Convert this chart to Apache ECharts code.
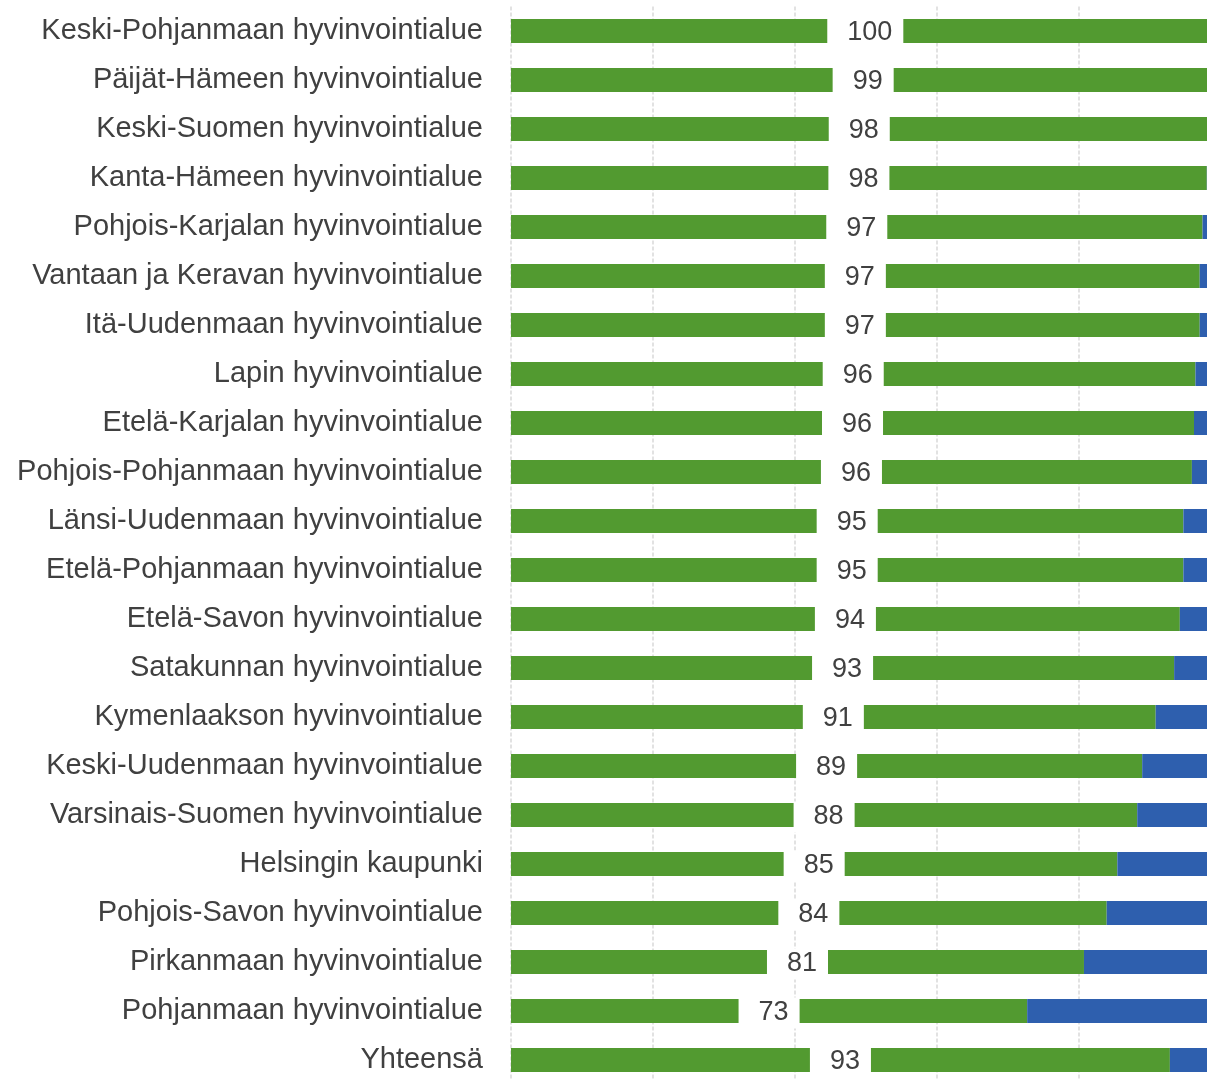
<!DOCTYPE html>
<html>
<head>
<meta charset="utf-8">
<script src="https://cdn.jsdelivr.net/npm/echarts@6/dist/echarts.min.js"></script>
<style>
html,body{margin:0;padding:0;overflow:hidden;background:#fff;width:1207px;height:1080px;}
#c{width:1240px;height:1100px;}
</style>
</head>
<body>
<div id="c"></div>
<script>
const categories = [
  "Keski-Pohjanmaan hyvinvointialue",
  "Päijät-Hämeen hyvinvointialue",
  "Keski-Suomen hyvinvointialue",
  "Kanta-Hämeen hyvinvointialue",
  "Pohjois-Karjalan hyvinvointialue",
  "Vantaan ja Keravan hyvinvointialue",
  "Itä-Uudenmaan hyvinvointialue",
  "Lapin hyvinvointialue",
  "Etelä-Karjalan hyvinvointialue",
  "Pohjois-Pohjanmaan hyvinvointialue",
  "Länsi-Uudenmaan hyvinvointialue",
  "Etelä-Pohjanmaan hyvinvointialue",
  "Etelä-Savon hyvinvointialue",
  "Satakunnan hyvinvointialue",
  "Kymenlaakson hyvinvointialue",
  "Keski-Uudenmaan hyvinvointialue",
  "Varsinais-Suomen hyvinvointialue",
  "Helsingin kaupunki",
  "Pohjois-Savon hyvinvointialue",
  "Pirkanmaan hyvinvointialue",
  "Pohjanmaan hyvinvointialue",
  "Yhteensä"
];
const greenValues = [99.8, 99.2, 98.1, 98.0, 97.4, 97.0, 97.0, 96.4, 96.2, 95.9, 94.7, 94.7, 94.2, 93.4, 90.8, 88.9, 88.2, 85.4, 83.9, 80.7, 72.7, 92.8];
const blueValues = [0.2, 0.8, 1.9, 2.0, 2.6, 3.0, 3.0, 3.6, 3.8, 4.1, 5.3, 5.3, 5.8, 6.6, 9.2, 11.1, 11.8, 14.6, 16.1, 19.3, 27.3, 7.2];
const xTicks = [0, 20, 40, 60, 80, 100];

const chart = echarts.init(document.getElementById('c'), null, {renderer: 'canvas'});
chart.setOption({
  animation: false,
  backgroundColor: '#ffffff',
  grid: {left: 511, right: 19, top: 6.5, bottom: 15.5, containLabel: false},
  xAxis: {
    type: 'value', min: xTicks[0], max: xTicks[xTicks.length - 1], interval: 20,
    axisLabel: {show: false}, axisLine: {show: false}, axisTick: {show: false},
    splitLine: {show: true, lineStyle: {color: '#d9d9d9', type: [4, 2], width: 1.5}}
  },
  yAxis: {
    type: 'category', data: categories, inverse: true,
    axisLine: {show: false}, axisTick: {show: false},
    axisLabel: {color: '#404040', fontSize: 29, fontFamily: 'Liberation Sans, Arial, sans-serif', margin: 28, padding: [7, 0, 0, 0]}
  },
  series: [
    {
      type: 'bar', stack: 'a', data: greenValues, barWidth: 24,
      itemStyle: {color: '#529a30'},
      label: {
        show: true, position: 'inside', color: '#404040', fontSize: 27,
        fontFamily: 'Liberation Sans, Arial, sans-serif',
        backgroundColor: '#ffffff', padding: [2, 11, 2, 20], offset: [0, 2],
        formatter: p => Math.round(p.value)
      }
    },
    {
      type: 'bar', stack: 'a', data: blueValues, barWidth: 24,
      itemStyle: {color: '#2e5fae'}
    }
  ]
});
</script>
</body>
</html>
